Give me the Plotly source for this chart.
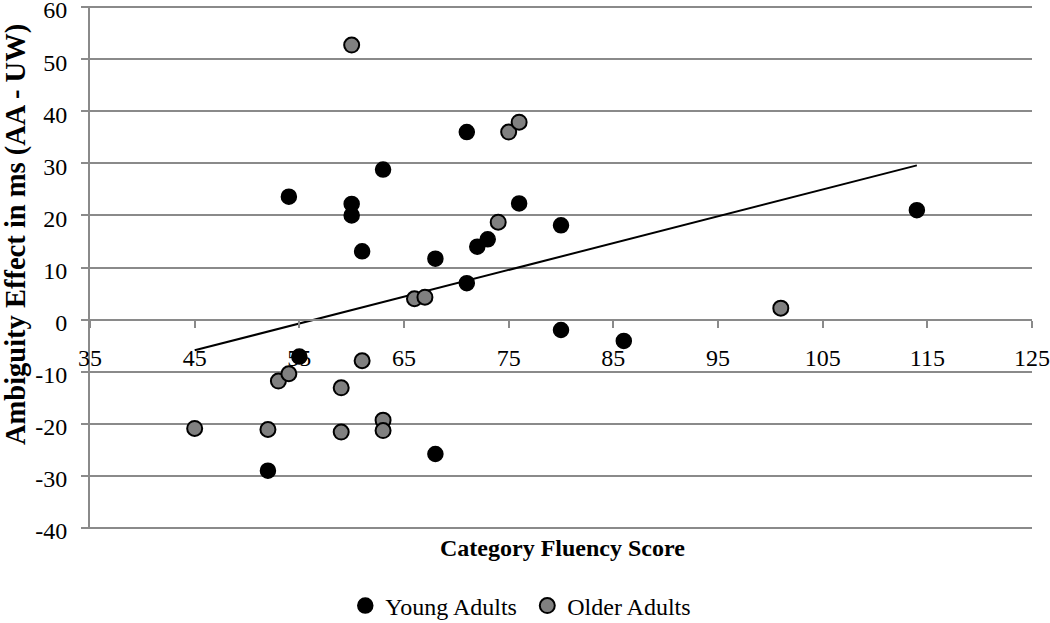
import plotly.graph_objects as go

young_x = [54, 71, 60, 60, 63, 61, 68, 71, 72, 73, 76, 80, 80, 86, 114, 55, 52, 68]
young_y = [23.6, 36, 22.2, 20, 28.8, 13.1, 11.7, 7.0, 14.0, 15.4, 22.3, 18.1, -2.0, -4.1, 21, -7.1, -29, -25.8]

older_x = [60, 75, 76, 74, 66, 67, 101, 45, 52, 53, 54, 59, 59, 61, 63, 63]
older_y = [52.7, 36, 37.9, 18.7, 4.0, 4.3, 2.2, -20.9, -21.1, -11.8, -10.4, -13.1, -21.6, -7.9, -19.3, -21.3]

trend_x = [45, 114]
trend_y = [-5.9, 29.6]

x_ticks = [35, 45, 55, 65, 75, 85, 95, 105, 115, 125]
y_ticks = [-40, -30, -20, -10, 0, 10, 20, 30, 40, 50, 60]

FONT = "Liberation Serif, Times New Roman, serif"
GRID = "#8a8a8a"

Y0, Y1 = -40.2, 60.2
fig = go.Figure()
fig.add_trace(go.Scatter(
    x=trend_x, y=trend_y, mode="lines", line=dict(color="black", width=2),
    showlegend=False, hoverinfo="skip"))
fig.add_trace(go.Scatter(
    x=young_x, y=young_y, mode="markers", name="Young Adults",
    marker=dict(size=15, color="black", line=dict(color="black", width=1.5))))
fig.add_trace(go.Scatter(
    x=older_x, y=older_y, mode="markers", name="Older Adults",
    marker=dict(size=15, color="#808080", line=dict(color="black", width=2))))

fig.update_layout(
    width=1050, height=623,
    margin=dict(l=90, r=18, t=6, b=94, autoexpand=False),
    paper_bgcolor="white", plot_bgcolor="white",
    font=dict(family=FONT, size=24, color="black"),
    xaxis=dict(
        range=[35, 125], tickvals=x_ticks, ticktext=[str(v) for v in x_ticks],
        showgrid=False, zeroline=False, showline=True, linecolor=GRID, linewidth=2,
        ticks="outside", ticklen=7, tickcolor=GRID, tickwidth=2,
        anchor="free", position=(0 - Y0) / (Y1 - Y0), ticklabelstandoff=10,
        ticklabeloverflow="allow", automargin=False,
        tickfont=dict(family=FONT, size=24, color="black"),
    ),
    yaxis=dict(
        range=[Y0, Y1], tickvals=y_ticks, ticktext=[str(v) for v in y_ticks],
        showgrid=True, gridcolor=GRID, gridwidth=2, zeroline=False,
        showline=True, linecolor=GRID, linewidth=2,
        ticks="outside", ticklen=7, tickcolor=GRID, tickwidth=2,
        ticklabelstandoff=9, ticklabelshift=3, ticklabeloverflow="allow", automargin=False,
        tickfont=dict(family=FONT, size=24, color="black"),
    ),
    showlegend=True,
    legend=dict(
        orientation="h", x=0.271, y=(523 - 601 + 1) / 523, xanchor="left", yanchor="middle",
        font=dict(family=FONT, size=24, color="black"),
        entrywidth=137, entrywidthmode="pixels", bgcolor="rgba(0,0,0,0)",
        itemclick=False,
    ),
    annotations=[
        dict(text="<b>Category Fluency Score</b>", xref="paper", yref="paper",
             x=(562 - 90) / 942, y=(529 - 548) / 523, xanchor="center", yanchor="middle",
             showarrow=False, font=dict(family=FONT, size=24, color="black")),
        dict(text="<b>Ambiguity Effect in ms (AA - UW)</b>", xref="paper", yref="paper",
             x=(16 - 90) / 942, y=(529 - 235) / 523, xanchor="center", yanchor="middle",
             textangle=-90, showarrow=False,
             font=dict(family=FONT, size=28.5, color="black")),
    ],
)

fig.write_html("out.html", config={"displayModeBar": False},
               post_script="document.body.style.margin='0';")
